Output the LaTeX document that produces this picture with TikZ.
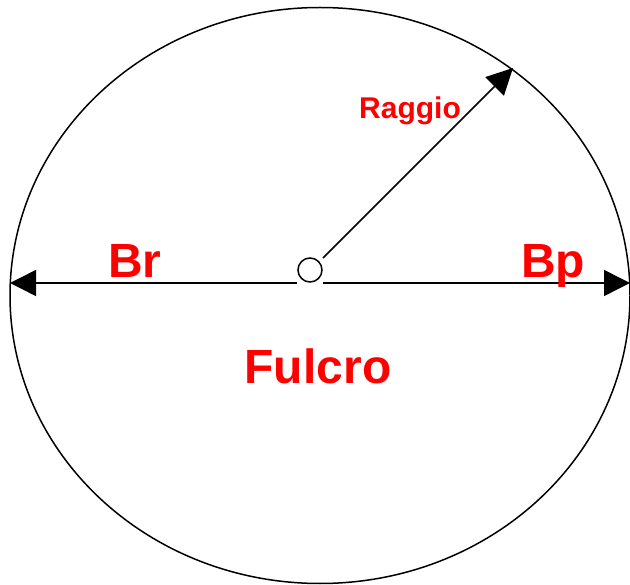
\documentclass[tikz,border=0pt]{standalone}
\usepackage{fontspec}
\setmainfont{Liberation Sans}
\usetikzlibrary{arrows.meta}

\begin{document}
\begin{tikzpicture}[x=1pt, y=-1pt, line width=1.5pt,
    lever/.style={-{Triangle[length=26pt, width=26pt]}},
    bigtext/.style={red, font=\fontsize{48}{48}\selectfont\bfseries, anchor=base, inner sep=0pt},
    smalltext/.style={red, font=\fontsize{30}{30}\selectfont\bfseries, anchor=base, inner sep=0pt}]
    \useasboundingbox (0,0) rectangle (630,585);

    % Outer ellipse
    \draw (320,295.5) ellipse [x radius=310, y radius=288];

    % Fulcrum
    \node[draw, circle, minimum size=24pt, inner sep=0pt] (fulcro) at (310,270) {};

    % End points of the arms
    \coordinate (br) at (10,283);
    \coordinate (bp) at (630,283);
    \coordinate (left) at (297,283);
    \coordinate (right) at (323,283);
    \coordinate (start) at (323,258);
    \coordinate (tip) at (513,68);

    % Arms and radius
    \draw[lever] (left) -- (br);
    \draw[lever] (right) -- (bp);
    \draw[lever] (start) -- (tip);

    % Labels
    \node[bigtext] (brlabel) at (135,278) {Br};
    \node[bigtext] (bplabel) at (553,278) {Bp};
    \node[bigtext] (fulcrolabel) at (318,384) {Fulcro};
    \node[smalltext] (raggiolabel) at (410,119) {Raggio};
\end{tikzpicture}
\end{document}
